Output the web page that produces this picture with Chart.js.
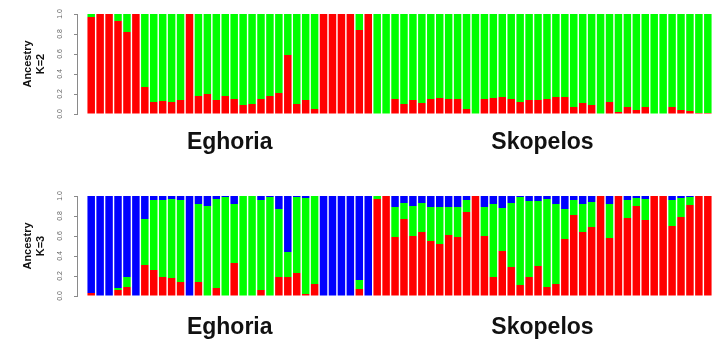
<!DOCTYPE html>
<html>
<head>
<meta charset="utf-8">
<script src="https://cdn.jsdelivr.net/npm/chart.js@4.4.1/dist/chart.umd.min.js"></script>
<style>
  html, body { margin: 0; padding: 0; background: #fff; }
  body { width: 713px; height: 343px; position: relative; overflow: hidden; }
  .panel { position: absolute; left: 0; width: 713px; }
  #p1 { top: 0; height: 171px; }
  #p2 { top: 171px; height: 172px; }
</style>
</head>
<body>
<div class="panel" id="p1"><canvas id="c1"></canvas></div>
<div class="panel" id="p2"><canvas id="c2"></canvas></div>
<script>
// ---- data ----
const populations = ['Eghoria', 'Skopelos'];
const popSizes = [32, 38];
const yTicks = [0, 0.2, 0.4, 0.6, 0.8, 1.0];

// K=2 ancestry proportions (cluster 1 = red, cluster 2 = green)
const k2Red = [
  0.97, 1.00, 1.00, 0.93, 0.82, 1.00, 0.27, 0.12, 0.13, 0.12,
  0.14, 1.00, 0.18, 0.20, 0.14, 0.18, 0.15, 0.09, 0.10, 0.15,
  0.18, 0.21, 0.59, 0.10, 0.14, 0.05, 1.00, 1.00, 1.00, 1.00,
  0.84, 1.00, 0.00, 0.00, 0.15, 0.10, 0.14, 0.11, 0.15, 0.16,
  0.15, 0.15, 0.05, 0.00, 0.15, 0.16, 0.17, 0.15, 0.12, 0.14,
  0.14, 0.15, 0.17, 0.17, 0.07, 0.11, 0.09, 0.00, 0.12, 0.02,
  0.07, 0.04, 0.07, 0.00, 0.00, 0.07, 0.04, 0.03, 0.01, 0.01
];
const k2Green = [
  0.03, 0.00, 0.00, 0.07, 0.18, 0.00, 0.73, 0.88, 0.87, 0.88,
  0.86, 0.00, 0.82, 0.80, 0.86, 0.82, 0.85, 0.91, 0.90, 0.85,
  0.82, 0.79, 0.41, 0.90, 0.86, 0.95, 0.00, 0.00, 0.00, 0.00,
  0.16, 0.00, 1.00, 1.00, 0.85, 0.90, 0.86, 0.89, 0.85, 0.84,
  0.85, 0.85, 0.95, 1.00, 0.85, 0.84, 0.83, 0.85, 0.88, 0.86,
  0.86, 0.85, 0.83, 0.83, 0.93, 0.89, 0.91, 1.00, 0.88, 0.98,
  0.93, 0.96, 0.93, 1.00, 1.00, 0.93, 0.96, 0.97, 0.99, 0.99
];

// K=3 ancestry proportions (red bottom, green middle, blue top)
const k3Red = [
  0.03, 0.00, 0.00, 0.06, 0.09, 0.00, 0.31, 0.26, 0.19, 0.18,
  0.14, 0.00, 0.14, 0.00, 0.08, 0.00, 0.33, 0.00, 0.00, 0.06,
  0.00, 0.19, 0.19, 0.23, 0.02, 0.12, 0.00, 0.00, 0.00, 0.00,
  0.07, 0.00, 0.97, 1.00, 0.59, 0.77, 0.60, 0.64, 0.55, 0.52,
  0.61, 0.59, 0.84, 1.00, 0.60, 0.19, 0.45, 0.29, 0.11, 0.19,
  0.30, 0.09, 0.12, 0.57, 0.81, 0.64, 0.69, 1.00, 0.58, 1.00,
  0.78, 0.90, 0.76, 1.00, 1.00, 0.70, 0.79, 0.91, 1.00, 1.00
];
const k3Green = [
  0.00, 0.00, 0.00, 0.02, 0.10, 0.00, 0.46, 0.70, 0.77, 0.79,
  0.82, 0.00, 0.78, 0.90, 0.89, 0.99, 0.59, 1.00, 1.00, 0.90,
  0.99, 0.68, 0.25, 0.76, 0.96, 0.88, 0.00, 0.00, 0.00, 0.00,
  0.09, 0.00, 0.03, 0.00, 0.30, 0.16, 0.30, 0.29, 0.34, 0.37,
  0.28, 0.30, 0.12, 0.00, 0.29, 0.73, 0.43, 0.64, 0.88, 0.76,
  0.65, 0.88, 0.80, 0.30, 0.15, 0.28, 0.25, 0.00, 0.34, 0.00,
  0.18, 0.08, 0.21, 0.00, 0.00, 0.26, 0.19, 0.08, 0.00, 0.00
];
const k3Blue = [
  0.97, 1.00, 1.00, 0.92, 0.81, 1.00, 0.23, 0.04, 0.04, 0.03,
  0.04, 1.00, 0.08, 0.10, 0.03, 0.01, 0.08, 0.00, 0.00, 0.04,
  0.01, 0.13, 0.56, 0.01, 0.02, 0.00, 1.00, 1.00, 1.00, 1.00,
  0.84, 1.00, 0.00, 0.00, 0.11, 0.07, 0.10, 0.07, 0.11, 0.11,
  0.11, 0.11, 0.04, 0.00, 0.11, 0.08, 0.12, 0.07, 0.01, 0.05,
  0.05, 0.03, 0.08, 0.13, 0.04, 0.08, 0.06, 0.00, 0.08, 0.00,
  0.04, 0.02, 0.03, 0.00, 0.00, 0.04, 0.02, 0.01, 0.00, 0.00
];

// ---- helpers ----
const individuals = [];
populations.forEach((p, pi) => { for (let j = 0; j < popSizes[pi]; j++) individuals.push(individuals.length + 1); });
const popCenters = [];
{ let start = 1; popSizes.forEach(n => { popCenters.push(start + (n - 1) / 2); start += n; }); }

const FONT = '"Liberation Sans", Arial, Helvetica, sans-serif';
const RED = '#FF0000', GREEN = '#00FF00', BLUE = '#0000FF';

function toXY(arr) { return arr.map((v, i) => ({ x: individuals[i], y: v })); }

function makeChart(canvasId, kLabel, series, cfg) {
  const datasets = series.map(s => ({
    data: toXY(s.values),
    backgroundColor: s.color,
    borderWidth: 0,
    barPercentage: 0.84,
    categoryPercentage: 1.0
  }));
  return new Chart(document.getElementById(canvasId), {
    type: 'bar',
    data: { datasets },
    options: {
      responsive: true,
      maintainAspectRatio: false,
      animation: false,
      events: [],
      layout: { padding: { left: 0, right: 0, top: cfg.top, bottom: 0 } },
      plugins: { legend: { display: false }, tooltip: { enabled: false } },
      scales: {
        x: {
          type: 'linear',
          stacked: true,
          offset: false,
          min: -0.589,
          max: 70.58,
          grid: { display: false, drawTicks: false, offset: false },
          border: { display: false },
          afterBuildTicks: sc => { sc.ticks = popCenters.map(v => ({ value: v })); },
          afterFit: sc => { sc.height = cfg.xHeight; },
          ticks: {
            autoSkip: false,
            maxRotation: 0,
            minRotation: 0,
            padding: cfg.labelPad,
            color: '#111',
            font: { family: FONT, size: 23, weight: 'bold' },
            callback: (v, i) => populations[i]
          }
        },
        y: {
          stacked: true,
          min: 0,
          max: 1,
          afterBuildTicks: sc => { sc.ticks = yTicks.map(v => ({ value: v })); },
          afterFit: sc => { sc.width = 77; },
          grid: { display: true, drawOnChartArea: false, drawTicks: true, tickLength: 3, color: '#8a8a8a' },
          border: { display: true, color: '#8a8a8a', width: 1 },
          ticks: {
            autoSkip: false,
            minRotation: 90,
            maxRotation: 90,
            crossAlign: 'center',
            padding: 9,
            color: '#666',
            font: { family: FONT, size: 7 },
            callback: v => Number(v).toFixed(1)
          },
          title: {
            display: true,
            text: ['Ancestry', kLabel],
            color: '#111',
            font: { family: FONT, size: 11, weight: 'bold', lineHeight: 1.2 },
            padding: { top: 21, bottom: 0 }
          }
        }
      }
    }
  });
}

makeChart('c1', 'K=2', [
  { values: k2Red, color: RED },
  { values: k2Green, color: GREEN }
], { top: 14, xHeight: 57, labelPad: 15 });

makeChart('c2', 'K=3', [
  { values: k3Red, color: RED },
  { values: k3Green, color: GREEN },
  { values: k3Blue, color: BLUE }
], { top: 25, xHeight: 47, labelPad: 18 });
</script>
</body>
</html>
